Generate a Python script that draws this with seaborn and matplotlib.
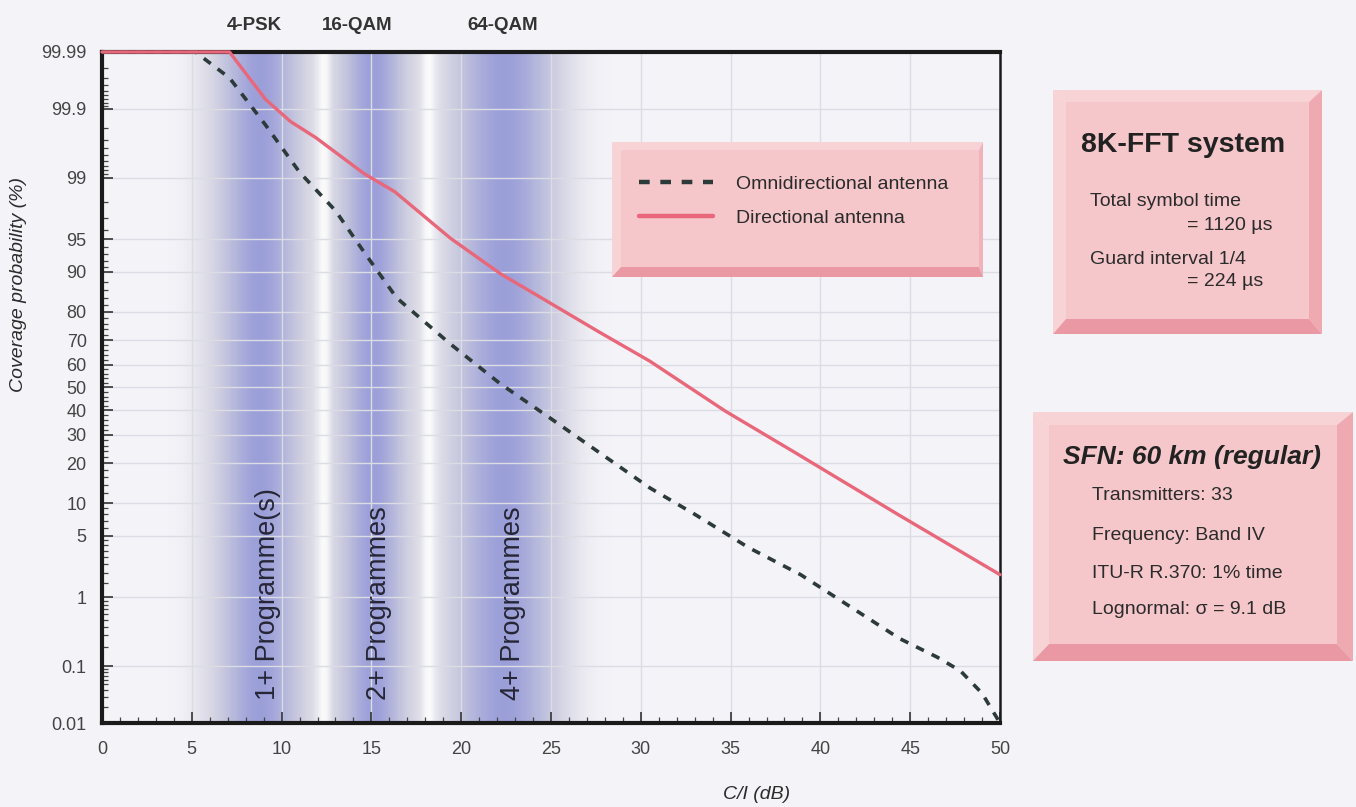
import numpy as np
import matplotlib
matplotlib.use("Agg")
import matplotlib.pyplot as plt
from matplotlib.patches import Polygon
from matplotlib.ticker import FixedLocator, FixedFormatter, MultipleLocator
from statistics import NormalDist
import seaborn as sns

# ---------------- data ----------------
omni_x = [0, 5.2, 7.1, 9.1, 11.0, 13.0, 14.6, 16.4, 19.4, 22.2, 24.9, 27.7, 30.5,
          33.0, 36.0, 38.9, 41.5, 44.4, 46.5, 47.8, 49.0, 50.0]
omni_y = [99.99, 99.99, 99.97, 99.82, 99.15, 97.5, 93.3, 84.0, 68.5, 51.5, 37.0, 23.5, 13.3,
          8.0, 3.8, 1.9, 0.8, 0.27, 0.14, 0.084, 0.035, 0.01]

dir_x = [0, 7.1, 9.1, 10.5, 11.9, 14.6, 16.3, 19.4, 22.2, 24.8, 27.7, 30.5, 34.7, 38.6, 44.3, 50.0]
dir_y = [99.99, 99.99, 99.93, 99.84, 99.72, 99.11, 98.5, 95.1, 89.6, 83.0, 73.0, 61.5, 39.7, 23.5, 8.0, 1.9]

series_labels = ["Omnidirectional antenna", "Directional antenna"]

x_ticks = [0, 5, 10, 15, 20, 25, 30, 35, 40, 45, 50]
y_ticks = [0.01, 0.1, 1, 5, 10, 20, 30, 40, 50, 60, 70, 80, 90, 95, 99, 99.9, 99.99]
y_tick_labels = ["0.01", "0.1", "1", "5", "10", "20", "30", "40", "50", "60", "70",
                 "80", "90", "95", "99", "99.9", "99.99"]

modulations = ["4-PSK", "16-QAM", "64-QAM"]
modulation_x = [8.5, 14.2, 22.3]
programmes = ["1+ Programme(s)", "2+ Programmes", "4+ Programmes"]
programme_x = [9.25, 15.4, 22.9]

band_centers = [8.8, 15.1, 22.4]
band_half = [1.9, 1.5, 2.4]
stripe_x = [12.35, 18.2]

box1_title = "8K-FFT system"
box1_lines = ["Total symbol time", "= 1120 µs", "Guard interval 1/4", "= 224 µs"]
box2_title = "SFN: 60 km (regular)"
box2_lines = ["Transmitters: 33", "Frequency: Band IV", "ITU-R R.370: 1% time",
              "Lognormal: σ = 9.1 dB"]

# ---------------- style ----------------
sns.set_theme(style="ticks")
plt.rcParams["font.family"] = ["Liberation Sans", "DejaVu Sans"]
BG = "#f4f3f8"
TXT = "#2b2b2b"

W, H = 1356, 807
fig = plt.figure(figsize=(W / 100, H / 100), dpi=100, facecolor=BG)
ax = fig.add_axes([102 / W, 1 - 723 / H, 898 / W, 671 / H])
ax.set_facecolor(BG)

_nd = NormalDist()


def fwd(p):
    p = np.clip(np.asarray(p, dtype=float), 1e-7, 100 - 1e-7)
    return np.vectorize(lambda v: _nd.inv_cdf(v / 100.0), otypes=[float])(p)


def inv(z):
    z = np.clip(np.asarray(z, dtype=float), -8, 8)
    return np.vectorize(lambda v: _nd.cdf(v) * 100.0, otypes=[float])(z)


ax.set_yscale("function", functions=(fwd, inv))

# ---------------- background bands ----------------
xe = np.linspace(0, 50, 801)
xm = 0.5 * (xe[:-1] + xe[1:])
bg = np.array([244, 243, 248]) / 255
gray = np.array([192, 192, 202]) / 255
blue = np.array([152, 156, 216]) / 255
w_blue = np.zeros_like(xm)
w_gray = np.zeros_like(xm)
for c, h in zip(band_centers, band_half):
    w_blue = np.maximum(w_blue, 0.95 * np.exp(-((xm - c) / h) ** 2))
    w_gray = np.maximum(w_gray, 0.55 * np.exp(-((xm - c) / (h + 1.7)) ** 4))
w_white = np.zeros_like(xm)
for s in stripe_x:
    w_white = np.maximum(w_white, 0.9 * np.exp(-((xm - s) / 0.35) ** 2))
col = bg[None, :] * (1 - w_gray[:, None]) + gray[None, :] * w_gray[:, None]
col = col * (1 - w_blue[:, None]) + blue[None, :] * w_blue[:, None]
col = col * (1 - w_white[:, None]) + 0.99 * w_white[:, None]
ax.pcolormesh(xe, [0.01, 99.99], col[None, :, :], shading="flat", zorder=0.1,
              edgecolors="none", antialiased=False)

# ---------------- lines ----------------
sns.lineplot(x=omni_x, y=omni_y, ax=ax, color="#2c3a3a", lw=2.6,
             linestyle=(0, (2.4, 2.4)), label=series_labels[0], estimator=None,
             sort=False, zorder=3, clip_on=False)
sns.lineplot(x=dir_x, y=dir_y, ax=ax, color="#e8677a", lw=2.4,
             label=series_labels[1], estimator=None, sort=False, zorder=3,
             clip_on=False)

ax.set_xlim(0, 50)
ax.set_ylim(0.01, 99.99)

ax.xaxis.set_major_locator(FixedLocator(x_ticks))
ax.xaxis.set_minor_locator(MultipleLocator(1))
ax.yaxis.set_major_locator(FixedLocator(y_ticks))
ax.yaxis.set_major_formatter(FixedFormatter(y_tick_labels))
minor_y = np.concatenate([
    np.arange(0.02, 0.1, 0.01), np.arange(0.2, 1.0, 0.1), np.arange(1.5, 5, 0.5),
    np.arange(6, 10, 1), np.arange(12, 90, 2), np.arange(91, 99, 1),
    np.arange(99.1, 99.9, 0.1), np.arange(99.91, 99.99, 0.01)])
ax.yaxis.set_minor_locator(FixedLocator(minor_y))
ax.tick_params(axis="both", which="major", direction="in", length=8, width=1.2,
               color="#333333", labelsize=13, labelcolor="#444444")
ax.tick_params(axis="both", which="minor", direction="in", length=4, width=0.9,
               color="#444444")
ax.tick_params(axis="y", which="major", pad=11)
ax.tick_params(axis="x", which="major", pad=13)

ax.grid(True, which="major", color="#dcdce4", lw=1.0)
for side in ["left", "bottom", "top"]:
    ax.spines[side].set_linewidth(3.0)
    ax.spines[side].set_color("#1a1a1a")
ax.spines["right"].set_linewidth(1.8)
ax.spines["right"].set_color("#1a1a1a")
ax.spines["right"].set_visible(True)
ax.spines["top"].set_visible(True)

ax.set_ylabel("Coverage probability (%)", fontsize=14, style="italic", color=TXT)
ax.yaxis.set_label_coords((27 - 102) / 898, (723 - 285) / 671)
ax.set_xlabel("C/I (dB)", fontsize=14, style="italic", color=TXT)
ax.xaxis.set_label_coords((757 - 102) / 898, (723 - 786) / 671)

# band annotations
tr = ax.get_xaxis_transform()
for lab, xv in zip(modulations, modulation_x):
    ax.text(xv, (723 - 25) / 671, lab, transform=tr, ha="center", va="center",
            fontsize=13.5, fontweight="bold", color="#333333", clip_on=False)
for lab, xv in zip(programmes, programme_x):
    ax.text(xv, (723 - 700) / 671, lab, transform=tr, ha="center", va="bottom",
            rotation=90, fontsize=19.5, color="#262636", zorder=2.5)


# ---------------- bevel boxes ----------------
def P(x, y):
    return (x / W, 1 - y / H)


def bevel_box(target, x0, y0, x1, y1, bl, bt, br, bb, face, light, right, bottom, z):
    polys = [
        ([(x0, y0), (x1, y0), (x1 - br, y0 + bt), (x0 + bl, y0 + bt)], light),
        ([(x0, y0), (x0 + bl, y0 + bt), (x0 + bl, y1 - bb), (x0, y1)], light),
        ([(x1, y0), (x1, y1), (x1 - br, y1 - bb), (x1 - br, y0 + bt)], right),
        ([(x0, y1), (x1, y1), (x1 - br, y1 - bb), (x0 + bl, y1 - bb)], bottom),
        ([(x0 + bl, y0 + bt), (x1 - br, y0 + bt), (x1 - br, y1 - bb), (x0 + bl, y1 - bb)], face),
    ]
    for pts, c in polys:
        pg = Polygon([P(*p) for p in pts], closed=True, facecolor=c, edgecolor="none",
                     transform=fig.transFigure, zorder=z, clip_on=False)
        if target is ax:
            ax.add_patch(pg)
        else:
            fig.add_artist(pg)


FACE, LIGHT, RIGHT, BOTTOM = "#f5c7cb", "#f8d3d6", "#efa9b0", "#ea98a3"
bevel_box(ax, 612, 142, 983, 277, 9, 8, 4, 10, FACE, LIGHT, "#f0b3b9", BOTTOM, 4)
bevel_box(fig, 1053, 90, 1322, 334, 13, 12, 13, 15, FACE, LIGHT, RIGHT, BOTTOM, 1)
bevel_box(fig, 1033, 412, 1353, 661, 16, 13, 16, 17, FACE, LIGHT, RIGHT, BOTTOM, 1)

leg = ax.legend(loc="upper left", bbox_to_anchor=P(639, 175), bbox_transform=fig.transFigure,
                frameon=False, fontsize=14, handlelength=3.8, handletextpad=1.2,
                labelspacing=0.85, borderpad=0, borderaxespad=0)
leg.set_zorder(5)
for t in leg.get_texts():
    t.set_color(TXT)
for hl in leg.get_lines():
    hl.set_linewidth(3.2)

# right-hand boxes text
fig.text(*P(1081, 145), box1_title, ha="left", va="center", fontsize=20.5,
         fontweight="bold", color="#222222", zorder=3)
b1_pos = [(1090, 202), (1187, 225), (1090, 259), (1187, 282)]
for s, (xx, yy) in zip(box1_lines, b1_pos):
    fig.text(*P(xx, yy), s, ha="left", va="center", fontsize=14, color=TXT, zorder=3)

fig.text(*P(1063, 457), box2_title, ha="left", va="center", fontsize=19,
         fontweight="bold", style="italic", color="#222222", zorder=3)
b2_y = [495, 535, 573, 610]
for s, yy in zip(box2_lines, b2_y):
    fig.text(*P(1092, yy), s, ha="left", va="center", fontsize=14, color=TXT, zorder=3)

fig.savefig("out.png", dpi=100, facecolor=BG)
